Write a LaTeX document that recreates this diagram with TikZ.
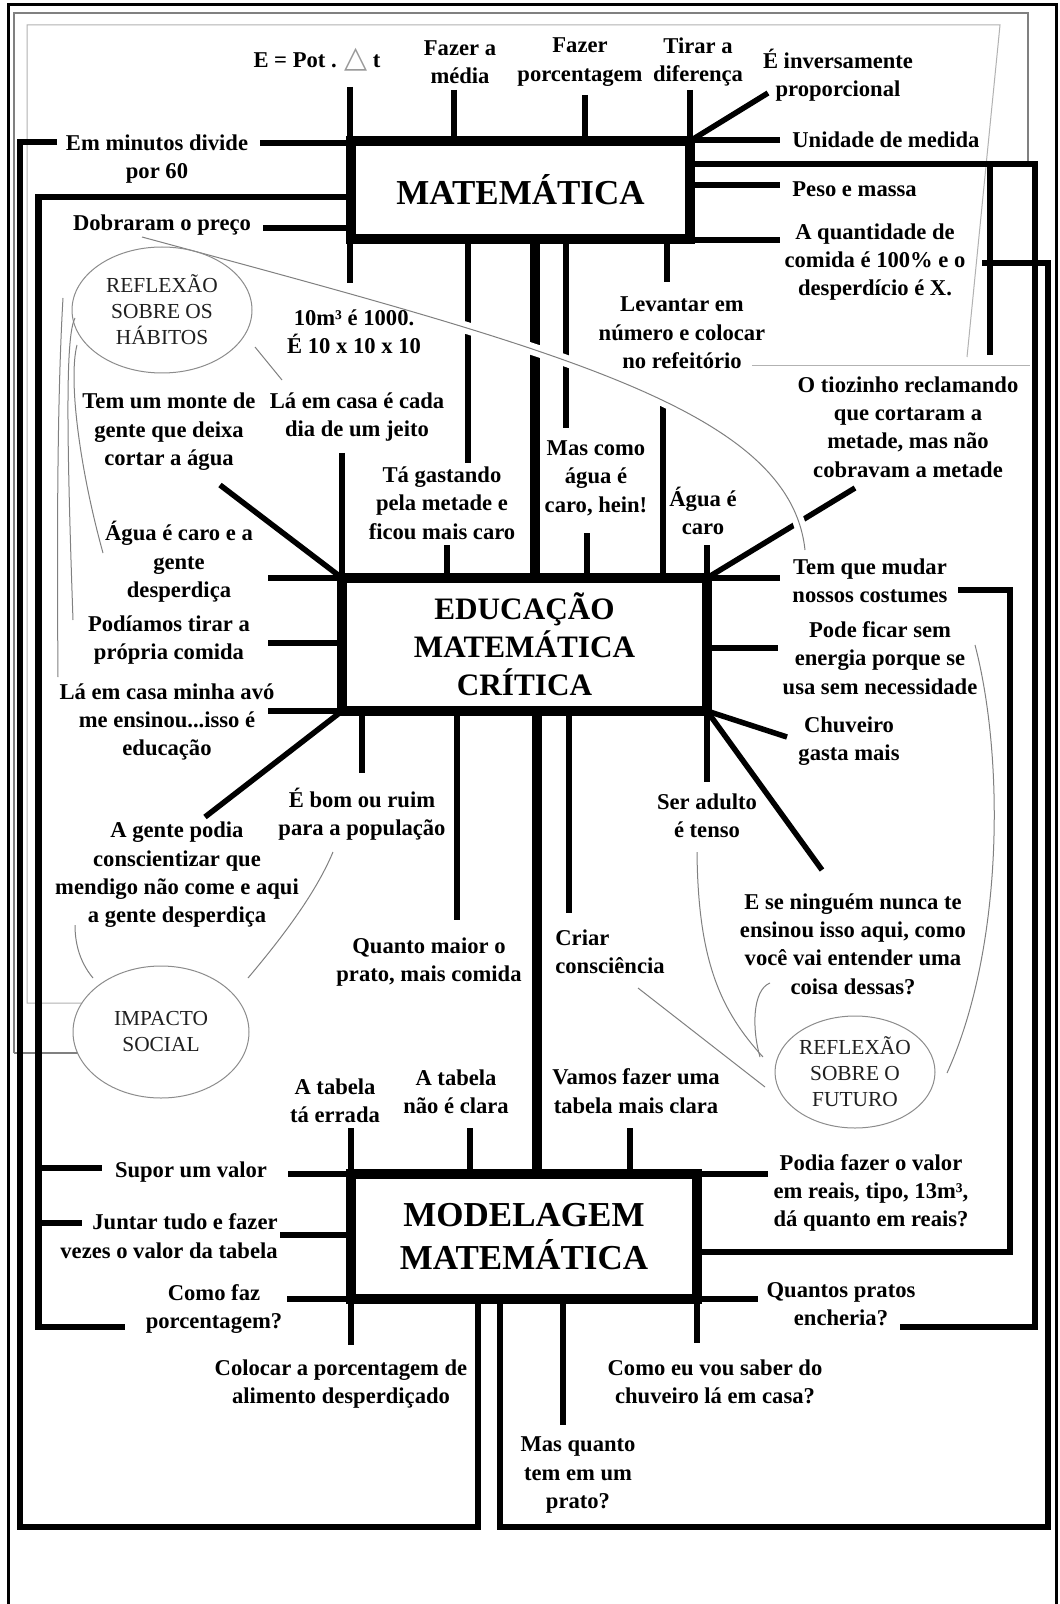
\documentclass[tikz,border=0pt]{standalone}
\usepackage{fontspec}
\setmainfont{Liberation Serif}
\newfontfamily\symfont{DejaVu Sans}
\usetikzlibrary{shapes.geometric}

\begin{document}
\begin{tikzpicture}[x=0.5pt,y=-0.5pt,
  lab/.style={font=\bfseries\fontsize{11.3}{14.2}\selectfont, align=center, inner sep=0pt},
  ttl/.style={font=\bfseries\fontsize{17.5}{21.5}\selectfont, align=center},
  box/.style={draw, line width=5pt, inner sep=0pt, outer sep=0pt, align=center},
  br/.style={line width=2.75pt},
  conn/.style={line width=3.3pt},
  mainln/.style={line width=5pt},
  curve/.style={draw=black!50, line width=0.5pt},
  halo/.style={preaction={draw=white, line width=6pt}},
  frameA/.style={draw=black!50, line width=0.7pt},
  frameB/.style={draw=black!30, line width=0.5pt},
  bubble/.style={ellipse, draw=black!45, line width=0.5pt, inner sep=0pt,
    text=black!88, align=center, font=\fontsize{10.7}{13}\selectfont}]

% page
\fill[white] (0,0) rectangle (1059,1604);
\useasboundingbox (0,0) rectangle (1059,1604);

% outer black border and the grey frame lines
\draw[line width=1.5pt] (8,1604) -- (8,5) -- (1056,5) -- (1056,1604);
\draw[frameA] (14,1053) -- (14,13) -- (1028,13) -- (1028,164);
\draw[frameA] (14,1053) -- (78,1053);
\draw[frameB] (82,1003) -- (27,1003) -- (27,25) -- (1000,25) -- (967,357);
\draw[frameB] (752,366) -- (1030,366);

% ---------------- central boxes ----------------
\node[box, ttl, minimum width=169.5pt, minimum height=49pt] (mat) at (520.5,190) {MATEMÁTICA};
\node[box, font=\bfseries\fontsize{15.6}{19}\selectfont, minimum width=182.5pt, minimum height=66.5pt] (edu) at (524.5,644.5) {EDUCAÇÃO\\MATEMÁTICA\\CRÍTICA};
\node[box, ttl, minimum width=173pt, minimum height=62.5pt] (mod) at (524,1236.5) {MODELAGEM\\MATEMÁTICA};

% main spine
\draw[mainln] (535,0 |- mat.south) -- (535,0 |- edu.north);
\draw[mainln] (537,0 |- edu.south) -- (537,0 |- mod.north);

% ---------------- MATEMÁTICA branches ----------------
\draw[br] (350,87) -- (350,283);
\draw[br] (454,90) -- (454,0 |- mat.north);
\draw[br] (585,95) -- (585,0 |- mat.north);
\draw[br] (690,90) -- (mat.north east);
\draw[br] (mat.north east) -- (768,93);
\draw[br] (690,140) -- (780,140);
\draw[br] (690,185) -- (780,185);
\draw[br] (690,240) -- (780,240);
\draw[conn] (468,0 |- mat.south) -- (468,463);
\draw[conn] (566,0 |- mat.south) -- (566,428);
\draw[br] (667,0 |- mat.south) -- (667,282);
\draw[br] (260,143) -- (351,143);
\draw[br] (263,228) -- (351,228);
\draw[conn] (990,164) -- (990,355);

% long frame connectors
\draw[conn] (690,164) -- (1035,164) -- (1035,1327) -- (900,1327);
\draw[conn] (982,263) -- (1048,263) -- (1048,1527) -- (500,1527) -- (500,0 |- mod.south);
\draw[conn] (57,142) -- (20,142) -- (20,1527) -- (478,1527) -- (478,0 |- mod.south);
\draw[conn] (351,197) -- (38.5,197) -- (38.5,1327) -- (125,1327);
\draw[conn] (38.5,1168) -- (102,1168);
\draw[conn] (38.5,1223) -- (82,1223);
\draw[conn] (958,590) -- (1010,590) -- (1010,1252) -- (697,1252);

% ---------------- EDUCAÇÃO branches ----------------
\draw[br] (220,485) -- (edu.north west);
\draw[br] (342,453) -- (edu.north west);
\draw[br] (447,545) -- (447,0 |- edu.north);
\draw[br] (587,533) -- (587,0 |- edu.north);
\draw[conn] (663,402) -- (663,0 |- edu.north);
\draw[br] (707,545) -- (edu.north east);
\draw[br] (edu.north east) -- (855,488);
\draw[br] (edu.north east) -- (780,578);
\draw[br] (707,648) -- (778,648);
\draw[br] (edu.south east) -- (787,737);
\draw[br] (edu.south east) -- (822,870);
\draw[br] (edu.south east) -- (707,782);
\draw[br] (569,0 |- edu.south) -- (569,913);
\draw[br] (457,0 |- edu.south) -- (457,920);
\draw[br] (362,0 |- edu.south) -- (362,773);
\draw[br] (edu.south west) -- (205,817);
\draw[br] (268,711) -- (edu.south west);
\draw[br] (268,578) -- (edu.north west);
\draw[br] (268,643) -- (342,643);

% ---------------- MODELAGEM branches ----------------
\draw[br] (351,1128) -- (351,1345);
\draw[br] (470,1128) -- (470,0 |- mod.north);
\draw[br] (630,1128) -- (630,0 |- mod.north);
\draw[br] (mod.north east) -- (768,1174);
\draw[br] (mod.south east) -- (758,1299);
\draw[br] (697,0 |- mod.south) -- (697,1343);
\draw[br] (563,0 |- mod.south) -- (563,1425);
\draw[br] (287,1299) -- (mod.south west);
\draw[br] (280,1235) -- (351,1235);
\draw[br] (288,1174) -- (mod.north west);

% ---------------- thin annotation curves ----------------
\draw[curve, halo] (142,237) .. controls (560,350) and (790,410) .. (805,550);

% topic bubbles
\node[bubble, minimum width=90pt, minimum height=63pt] (hab) at (162,310) {REFLEXÃO\\SOBRE OS\\HÁBITOS};
\node[bubble, minimum width=88pt, minimum height=66pt] (soc) at (161,1032) {IMPACTO\\SOCIAL};
\node[bubble, minimum width=80pt, minimum height=56pt] (fut) at (855,1072) {REFLEXÃO\\SOBRE O\\FUTURO};

\draw[curve] (63,298) .. controls (57,400) and (57,550) .. (58,677);
\draw[curve] (75,318) .. controls (66,335) and (66,420) .. (73,620);
\draw[curve] (77,345) .. controls (68,380) and (80,470) .. (103,553);
\draw[curve] (255,347) -- (282,380);

\draw[curve] (93,978) .. controls (78,960) and (75,940) .. (75,925);
\draw[curve] (248,978) .. controls (280,940) and (315,895) .. (333,852);

\draw[curve] (638,988) -- (765,1087);
\draw[curve] (697,852) .. controls (698,960) and (720,1010) .. (763,1057);
\draw[curve] (770,983) .. controls (752,990) and (752,1030) .. (760,1057);
\draw[curve] (975,645) .. controls (1005,760) and (1003,950) .. (947,1073);

% ---------------- labels ----------------
\node[lab] (t1) at (317,60) {E = Pot . {\symfont\mdseries\fontsize{15}{15}\selectfont\color{black!40}△} t};
\node[lab] (t2) at (460,62) {Fazer a\\média};
\node[lab] (t3) at (580,62) {Fazer\\porcentagem};
\node[lab] (t4) at (698,62) {Tirar a\\diferença};
\node[lab] (t5) at (838,75) {É inversamente\\proporcional};
\node[lab, anchor=west] (t6) at (792,140) {Unidade de medida};
\node[lab, anchor=west] (t7) at (792,189) {Peso e massa};
\node[lab] (t8) at (875,262) {A quantidade de\\comida é 100\% e o\\desperdício é X.};
\node[lab] (t9) at (157,159) {Em minutos divide\\por 60};
\node[lab] (t10) at (162,225) {Dobraram o preço};
\node[lab] (t11) at (354,332) {10m³ é 1000.\\É 10 x 10 x 10};
\node[lab] (t12) at (682,333) {Levantar em\\número e colocar\\no refeitório};
\node[lab] (t13) at (169,432) {Tem um monte de\\gente que deixa\\cortar a água};
\node[lab] (t14) at (357,417) {Lá em casa é cada\\dia de um jeito};
\node[lab] (t15) at (442,503) {Tá gastando\\pela metade e\\ficou mais caro};
\node[lab] (t16) at (596,478) {Mas como\\água é\\caro, hein!};
\node[lab] (t17) at (703,511) {Água é\\caro};
\node[lab] (t18) at (908,427) {O tiozinho reclamando\\que cortaram a\\metade, mas não\\cobravam a metade};
\node[lab] (t19) at (179,562) {Água é caro e a\\gente\\desperdiça};
\node[lab] (t20) at (169,640) {Podíamos tirar a\\própria comida};
\node[lab] (t21) at (167,722) {Lá em casa minha avó\\me ensinou...isso é\\educação};
\node[lab] (t22) at (870,581) {Tem que mudar\\nossos costumes};
\node[lab] (t23) at (880,658) {Pode ficar sem\\energia porque se\\usa sem necessidade};
\node[lab] (t24) at (849,741) {Chuveiro\\gasta mais};
\node[lab] (t25) at (362,814) {É bom ou ruim\\para a população};
\node[lab] (t26) at (707,816) {Ser adulto\\é tenso};
\node[lab] (t27) at (177,875) {A gente podia\\conscientizar que\\mendigo não come e aqui\\a gente desperdiça};
\node[lab] (t28) at (853,944) {E se ninguém nunca te\\ensinou isso aqui, como\\você vai entender uma\\coisa dessas?};
\node[lab] (t29) at (429,962) {Quanto maior o\\prato, mais comida};
\node[lab, anchor=west, align=left] (t30) at (555,952) {Criar\\consciência};
\node[lab] (t31) at (335,1101) {A tabela\\tá errada};
\node[lab] (t32) at (456,1092) {A tabela\\não é clara};
\node[lab] (t33) at (636,1091) {Vamos fazer uma\\tabela mais clara};
\node[lab] (t34) at (871,1193) {Podia fazer o valor\\em reais, tipo, 13m³,\\dá quanto em reais?};
\node[lab] (t35) at (191,1172) {Supor um valor};
\node[lab, anchor=east, align=right] (t36) at (278,1236) {Juntar tudo e fazer\\vezes o valor da tabela};
\node[lab] (t37) at (214,1309) {Como faz\\porcentagem?};
\node[lab] (t38) at (841,1304) {Quantos pratos\\encheria?};
\node[lab] (t39) at (341,1384) {Colocar a porcentagem de\\alimento desperdiçado};
\node[lab] (t40) at (715,1382) {Como eu vou saber do\\chuveiro lá em casa?};
\node[lab] (t41) at (578,1475) {Mas quanto\\tem em um\\prato?};

\end{tikzpicture}
\end{document}
